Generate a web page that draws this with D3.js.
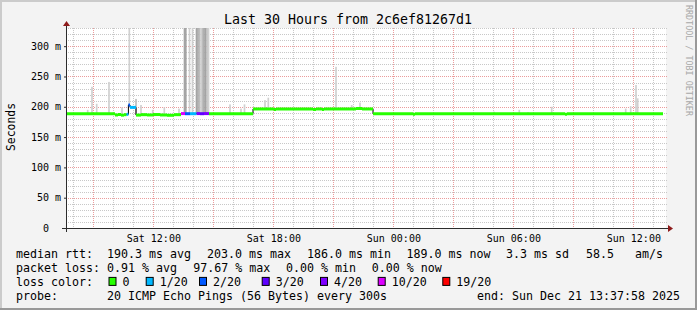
<!DOCTYPE html>
<html>
<head>
<meta charset="utf-8">
<script src="https://cdn.jsdelivr.net/npm/d3@7"></script>
<style>
  body { margin: 0; background: #f3f3f3; }
  svg { display: block; }
  text { font-family: "DejaVu Sans Mono", monospace; fill: #000; }
</style>
</head>
<body>
<svg id="chart" width="697" height="310"></svg>
<script>
// ---- data ----
const endTime = new Date(2025, 11, 21, 13, 37, 58);
const spanHours = 30;

// median rtt in ms: [from hour, to hour, ms, lost pings of 20]
const medianSteps = [
  [0.00, 2.45, 188.6, 0],
  [2.45, 2.60, 186.5, 0],
  [2.60, 2.75, 187.3, 0],
  [2.75, 2.90, 186.2, 0],
  [2.90, 3.03, 187.0, 0],
  [3.03, 3.12, 187.5, 1],
  [3.12, 3.20, 203.0, 2],
  [3.20, 3.50, 199.0, 1],
  [3.50, 3.75, 186.3, 0],
  [3.75, 4.05, 187.0, 0],
  [4.05, 4.35, 186.5, 0],
  [4.35, 4.70, 187.2, 0],
  [4.70, 5.05, 186.5, 0],
  [5.05, 5.40, 186.0, 0],
  [5.40, 5.75, 187.0, 0],
  [5.75, 5.95, 188.8, 10],
  [5.95, 6.20, 188.6, 2],
  [6.20, 6.53, 188.6, 1],
  [6.53, 6.70, 188.8, 4],
  [6.70, 6.90, 188.6, 3],
  [6.90, 7.15, 188.8, 4],
  [7.15, 9.35, 188.6, 0],
  [9.35, 10.40, 196.4, 0],
  [10.40, 10.50, 195.5, 0],
  [10.50, 12.35, 196.4, 0],
  [12.35, 12.50, 195.5, 0],
  [12.50, 12.80, 196.4, 0],
  [12.80, 12.90, 195.5, 0],
  [12.90, 14.50, 196.4, 0],
  [14.50, 14.80, 197.2, 0],
  [14.80, 15.35, 196.4, 0],
  [15.35, 17.35, 188.6, 0],
  [17.35, 17.45, 187.5, 0],
  [17.45, 24.95, 188.6, 0],
  [24.95, 25.05, 187.5, 0],
  [25.05, 29.85, 188.6, 0]
];

// smoke spikes: hour, highest ping (ms), shade 0 light .. 2 dark
const smokeHour = [1.085, 1.30, 1.535, 2.15, 2.80, 3.165, 3.50, 3.75, 4.335, 4.915, 5.65,
  5.925, 5.99, 6.175, 6.325, 6.525, 6.60, 6.675, 6.75, 6.825, 6.90, 6.975, 7.05, 7.125,
  8.20, 8.75, 8.925, 9.95, 10.115, 13.50, 14.285, 14.70, 21.40, 22.665, 23.10, 24.285,
  27.985, 28.235, 28.50, 28.585];
const smokeTop = [195, 233, 205, 241, 199, 330, 213, 203, 195, 199, 197,
  330, 330, 330, 330, 330, 330, 330, 330, 330, 330, 330, 330, 330,
  204, 197, 204, 211, 215, 266, 203, 207, 192, 195, 191, 200,
  197, 201, 236, 214];
const smokeShade = [0, 0, 0, 0, 0, 0, 1, 0, 0, 0, 0,
  2, 2, 0, 0, 2, 2, 1, 0, 1, 2, 2, 1, 0,
  0, 0, 0, 0, 0, 0, 0, 0, 0, 0, 0, 0,
  0, 0, 0, 0];

const lossLevels = [0, 1, 2, 3, 4, 10, 19];
const lossColors = ["#26ff00", "#00b8ff", "#0059ff", "#5e00ff", "#7e00ff", "#dd00ff", "#ff0000"];
const lossLabels = ["0", "1/20", "2/20", "3/20", "4/20", "10/20", "19/20"];

const rttStats = ["190.3 ms avg", "203.0 ms max", "186.0 ms min", "189.0 ms now", "3.3 ms sd", "58.5", "am/s"];
const lossStats = ["0.91 % avg", "97.67 % max", "0.00 % min", "0.00 % now"];
const probeText = "20 ICMP Echo Pings (56 Bytes) every 300s";
const endText = "end: Sun Dec 21 13:37:58 2025";

// ---- drawing ----
const W = 697, H = 310;
const X0 = 66, X1 = 666, Y0 = 228, Y1 = 28;
const startTime = d3.timeHour.offset(endTime, -spanHours);
const hourToDate = (h) => new Date(+startTime + h * 3600e3);

const x = d3.scaleTime().domain([startTime, endTime]).range([X0, X1]);
const y = d3.scaleLinear().domain([0, 330]).range([Y0, Y1]);

const svg = d3.select("#chart");

// frame
svg.append("rect").attr("width", W).attr("height", H).attr("fill", "#f3f3f3");
svg.append("path").attr("d", `M0,0H${W}V2H2V${H}H0Z`).attr("fill", "#cbcbcb");
svg.append("path").attr("d", `M${W},${H}H0V${H - 2}H${W - 2}V0H${W}Z`).attr("fill", "#999");

// plot canvas
svg.append("rect").attr("x", X0).attr("y", Y1)
  .attr("width", X1 - X0).attr("height", Y0 - Y1).attr("fill", "#fff");

const grid = svg.append("g");
const crisp = (v) => Math.round(v) + 0.5;

// minor grid
y.ticks(33).forEach((v) => {
  if (v % 50 === 0) return;
  grid.append("line").attr("x1", X0).attr("x2", X1 + 2)
    .attr("y1", crisp(y(v))).attr("y2", crisp(y(v)))
    .attr("stroke", "#c8c8c8").attr("stroke-dasharray", "1,1");
});
d3.timeHour.every(1).range(startTime, endTime).forEach((t) => {
  if (t.getHours() % 3 === 0) return;
  grid.append("line").attr("x1", crisp(x(t))).attr("x2", crisp(x(t)))
    .attr("y1", Y1).attr("y2", Y0 + 2)
    .attr("stroke", "#c8c8c8").attr("stroke-dasharray", "1,1");
});
// major grid
y.ticks(6).forEach((v) => {
  if (v === 0) return;
  grid.append("line").attr("x1", X0).attr("x2", X1 + 2)
    .attr("y1", crisp(y(v))).attr("y2", crisp(y(v)))
    .attr("stroke", "#eb9c9c").attr("stroke-dasharray", "1,1");
});
d3.timeHour.every(3).range(startTime, endTime).forEach((t) => {
  grid.append("line").attr("x1", crisp(x(t))).attr("x2", crisp(x(t)))
    .attr("y1", Y1).attr("y2", Y0 + 2)
    .attr("stroke", "#eb9c9c").attr("stroke-dasharray", "1,1");
});

// median value at a given hour, used as smoke base
function medianAt(h) {
  const s = medianSteps.find((d) => h >= d[0] && h < d[1]);
  return s ? s[2] : 188.6;
}

// smoke
const shadeColors = ["#d0d0d0", "#bcbcbc", "#a4a4a4"];
const stepW = x(hourToDate(1 / 12)) - x(startTime);
svg.append("g").selectAll("rect")
  .data(smokeHour.map((h, i) => ({ h, top: smokeTop[i], shade: smokeShade[i] })))
  .join("rect")
  .attr("x", (d) => x(hourToDate(d.h)) - stepW / 2)
  .attr("width", stepW)
  .attr("y", (d) => y(Math.min(d.top, 330)))
  .attr("height", (d) => y(medianAt(d.h)) - y(Math.min(d.top, 330)))
  .attr("fill", (d) => shadeColors[d.shade]);

// median: black step connector, then loss coloured segments
const stepPoints = [];
medianSteps.forEach((d) => {
  stepPoints.push([d[0], d[2]]);
  stepPoints.push([d[1], d[2]]);
});
svg.append("path")
  .attr("d", d3.line().x((p) => x(hourToDate(p[0]))).y((p) => y(p[1]))(stepPoints))
  .attr("fill", "none").attr("stroke", "#000").attr("stroke-width", 1);

svg.append("g").selectAll("line")
  .data(medianSteps)
  .join("line")
  .attr("x1", (d) => x(hourToDate(d[0])))
  .attr("x2", (d) => x(hourToDate(d[1])))
  .attr("y1", (d) => y(d[2]))
  .attr("y2", (d) => y(d[2]))
  .attr("stroke", (d) => lossColors[lossLevels.indexOf(d[3])])
  .attr("stroke-width", 3);

// axes lines + arrows
const axisColor = "#2c2c2c";
svg.append("line").attr("x1", X0 - 4).attr("x2", X1 + 3)
  .attr("y1", Y0 + 0.5).attr("y2", Y0 + 0.5).attr("stroke", axisColor);
svg.append("line").attr("x1", X0 + 0.5).attr("x2", X0 + 0.5)
  .attr("y1", Y0 + 4).attr("y2", Y1 - 3).attr("stroke", axisColor);
svg.append("path").attr("d", `M${X1 + 7},${Y0 + 0.5}L${X1 + 2},${Y0 - 3}L${X1 + 2},${Y0 + 4}Z`)
  .attr("fill", "#8e1b1b");
svg.append("path").attr("d", `M${X0 + 0.5},${Y1 - 7}L${X0 - 3},${Y1 - 2}L${X0 + 4},${Y1 - 2}Z`)
  .attr("fill", "#8e1b1b");

// tick labels
const yAxis = svg.append("g").attr("transform", `translate(${X0},0)`)
  .call(d3.axisLeft(y).tickValues(y.ticks(6)).tickSize(2).tickPadding(3)
    .tickFormat((d) => (d === 0 ? "0" : d + " m")));
yAxis.select(".domain").remove();
yAxis.selectAll("line").attr("stroke", axisColor);
yAxis.selectAll("text").attr("font-size", 10).attr("font-family", "DejaVu Sans Mono")
  .filter((d) => d === 0).attr("dx", "-1.2em");

const xAxis = svg.append("g").attr("transform", `translate(0,${Y0})`)
  .call(d3.axisBottom(x).ticks(d3.timeHour.every(6)).tickSize(0).tickPadding(6.5)
    .tickFormat(d3.timeFormat("%a %H:%M")));
xAxis.select(".domain").remove();
xAxis.selectAll("text").attr("font-size", 10).attr("font-family", "DejaVu Sans Mono");

// title, unit label, watermark
svg.append("text").attr("x", 348).attr("y", 24).attr("text-anchor", "middle")
  .attr("font-size", 13.3).text("Last 30 Hours from 2c6ef81267d1");
svg.append("text").attr("transform", "translate(15,127) rotate(-90)")
  .attr("text-anchor", "middle").attr("font-size", 11.4).text("Seconds");
svg.append("text").attr("transform", "translate(685.5,5) rotate(90)")
  .attr("font-size", 8.4).style("fill", "#a8a8a8").text("RRDTOOL / TOBI OETIKER");

// legend
const legend = svg.append("g").attr("font-size", 11.63);
const row = [257.5, 271.7, 285.9, 300];
const put = (tx, ty, s) => legend.append("text").attr("x", tx).attr("y", ty).text(s);

put(16, row[0], "median rtt:");
[107, 207, 307, 406.5, 506, 586, 635].forEach((px, i) => put(px, row[0], rttStats[i]));

put(16, row[1], "packet loss:");
[107, 193.3, 286, 371.7].forEach((px, i) => put(px, row[1], lossStats[i]));

put(16, row[2], "loss color:");
[108.5, 145.7, 199, 261.7, 320, 377.7, 442.3].forEach((px, i) => {
  legend.append("rect").attr("x", px + 0.5).attr("y", row[2] - 8.5)
    .attr("width", 7).attr("height", 8)
    .attr("fill", lossColors[i]).attr("stroke", "#000");
  put(px + 14, row[2], lossLabels[i]);
});

put(16, row[3], "probe:");
put(107, row[3], probeText);
put(477, row[3], endText);
</script>
</body>
</html>
